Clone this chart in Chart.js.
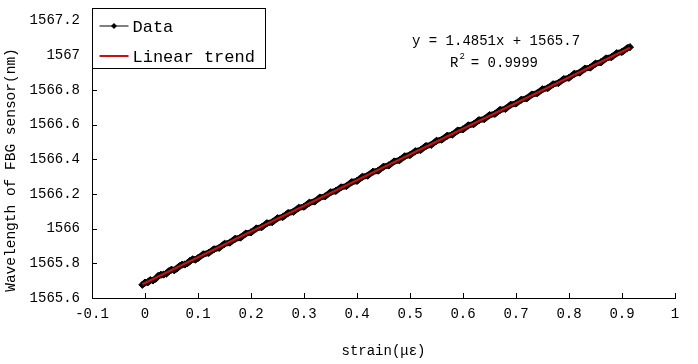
<!DOCTYPE html>
<html><head><meta charset="utf-8">
<script src="https://cdn.jsdelivr.net/npm/chart.js@4"></script>
<style>html,body{margin:0;padding:0;background:#fff}#wrap{width:698px;height:364px}</style>
</head><body><div id="wrap"><canvas id="c" width="698" height="364"></canvas></div>
<script>
const strainX = [-0.005,0.00,0.005,0.01,0.015,0.02,0.025,0.03,0.035,0.04,0.045,0.05,0.055,0.06,0.065,0.07,0.075,0.08,0.085,0.09,0.095,0.10,0.11,0.12,0.13,0.14,0.15,0.16,0.17,0.18,0.19,0.20,0.21,0.22,0.23,0.24,0.25,0.26,0.27,0.28,0.29,0.30,0.31,0.32,0.33,0.34,0.35,0.36,0.37,0.38,0.39,0.40,0.41,0.42,0.43,0.44,0.45,0.46,0.47,0.48,0.49,0.50,0.51,0.52,0.53,0.54,0.55,0.56,0.57,0.58,0.59,0.60,0.61,0.62,0.63,0.64,0.65,0.66,0.67,0.68,0.69,0.70,0.71,0.72,0.73,0.74,0.75,0.76,0.77,0.78,0.79,0.80,0.81,0.82,0.83,0.84,0.85,0.86,0.87,0.88,0.89,0.90,0.91,0.915];
const wavelengthY = [1565.676,1565.689,1565.690,1565.703,1565.701,1565.711,1565.727,1565.734,1565.735,1565.740,1565.754,1565.763,1565.760,1565.770,1565.783,1565.792,1565.793,1565.801,1565.814,1565.823,1565.821,1565.830,1565.852,1565.860,1565.881,1565.889,1565.912,1565.919,1565.941,1565.948,1565.971,1565.978,1566.001,1566.008,1566.031,1566.037,1566.060,1566.067,1566.090,1566.097,1566.120,1566.126,1566.149,1566.156,1566.179,1566.186,1566.209,1566.217,1566.238,1566.245,1566.268,1566.275,1566.298,1566.305,1566.328,1566.334,1566.357,1566.364,1566.387,1566.394,1566.417,1566.424,1566.446,1566.453,1566.476,1566.483,1566.506,1566.513,1566.535,1566.542,1566.565,1566.572,1566.595,1566.602,1566.625,1566.631,1566.654,1566.661,1566.684,1566.690,1566.714,1566.721,1566.743,1566.750,1566.773,1566.780,1566.803,1566.810,1566.832,1566.839,1566.862,1566.869,1566.892,1566.899,1566.922,1566.928,1566.951,1566.958,1566.981,1566.988,1567.011,1567.018,1567.040,1567.046];
const trendX = [-0.005, 0.915];
const trendY = [1565.679, 1567.042];
const xTicks = {min:-0.1, max:1, step:0.1};
const yTicks = {min:1565.6, max:1567.2, step:0.2};
const equationLines = ["y = 1.4851x + 1565.7", "R", "2", " = 0.9999"];
const xTitle = "strain(με)";
const yTitle = "Wavelength of FBG sensor(nm)";
const seriesLabels = ["Data", "Linear trend"];

const FONT = "'Liberation Mono', monospace";
const dataPts = strainX.map((x,i)=>({x, y: wavelengthY[i]}));
const trendPts = trendX.map((x,i)=>({x, y: trendY[i]}));
const fmt = v => String(Number(Number(v).toFixed(1)));

const overlay = {
  id:'overlay',
  afterDraw(chart){
    const ctx = chart.ctx, xs = chart.scales.x, ys = chart.scales.y;
    ctx.save();
    ctx.strokeStyle = '#000'; ctx.lineWidth = 1;
    xs.ticks.forEach(t=>{ const px = Math.round(xs.getPixelForValue(t.value))+0.5;
      ctx.beginPath(); ctx.moveTo(px, ys.bottom); ctx.lineTo(px, ys.bottom-5); ctx.stroke(); });
    ys.ticks.forEach(t=>{ const py = Math.round(ys.getPixelForValue(t.value))+0.5;
      ctx.beginPath(); ctx.moveTo(xs.left, py); ctx.lineTo(xs.left+5, py); ctx.stroke(); });
    // y title
    ctx.save();
    ctx.translate(11, 170); ctx.rotate(-Math.PI/2);
    ctx.font = "14.5px " + FONT; ctx.fillStyle='#000'; ctx.textAlign='center'; ctx.textBaseline='middle';
    ctx.fillText(yTitle, 0, 0);
    ctx.restore();
    // legend
    const lx = xs.left+0.5, ly = 8.5, lw = 173, lh = 60;
    ctx.fillStyle = '#fff'; ctx.fillRect(lx, ly, lw, lh);
    ctx.strokeRect(lx, ly, lw, lh);
    const ds = chart.data.datasets;
    ctx.font = "17px " + FONT; ctx.textBaseline = 'middle'; ctx.textAlign='left';
    let ry = 26;
    ctx.strokeStyle = '#000'; ctx.lineWidth = 1;
    ctx.beginPath(); ctx.moveTo(lx+7, ry); ctx.lineTo(lx+36, ry); ctx.stroke();
    ctx.fillStyle = '#000';
    ctx.beginPath(); ctx.moveTo(lx+21.5, ry-3); ctx.lineTo(lx+24.5, ry); ctx.lineTo(lx+21.5, ry+3); ctx.lineTo(lx+18.5, ry); ctx.closePath(); ctx.fill();
    ctx.fillText(ds[0].label, lx+40, ry+1);
    ry = 56;
    ctx.strokeStyle = ds[1].borderColor; ctx.lineWidth = 2;
    ctx.beginPath(); ctx.moveTo(lx+7, ry); ctx.lineTo(lx+36, ry); ctx.stroke();
    ctx.fillStyle='#000'; ctx.fillText(ds[1].label, lx+40, ry+1);
    // equation
    ctx.font = "14px " + FONT;
    ctx.fillText(equationLines[0], 412, 41);
    ctx.fillText(equationLines[1], 450, 63);
    const rw = ctx.measureText(equationLines[1]).width;
    ctx.font = "9px " + FONT; ctx.fillText(equationLines[2], 450+rw+1, 57);
    ctx.font = "14px " + FONT; ctx.fillText(equationLines[3], 450+rw+4, 63);
    ctx.restore();
  }
};

new Chart(document.getElementById('c'), {
  type:'scatter',
  data:{datasets:[
    {label:seriesLabels[0], data:dataPts, showLine:true, borderColor:'#000', borderWidth:6,
     pointStyle:'rectRot', pointRadius:3.6, pointBackgroundColor:'#000', pointBorderColor:'#000', pointBorderWidth:1, order:2},
    {label:seriesLabels[1], data:trendPts, showLine:true, borderColor:'#cc1010', borderWidth:2.2, pointRadius:0, order:1}
  ]},
  plugins:[overlay],
  options:{
    responsive:false, animation:false, devicePixelRatio:1,
    layout:{padding:{top:15, right:23, left:0, bottom:0}},
    plugins:{legend:{display:false}, tooltip:{enabled:false}},
    scales:{
      x:{type:'linear', min:xTicks.min, max:xTicks.max,
         ticks:{stepSize:xTicks.step, color:'#000', font:{family:FONT, size:14}, padding:8, maxRotation:0, callback:fmt},
         grid:{display:false, drawTicks:false}, border:{display:true, color:'#000', width:1},
         title:{display:true, text:xTitle, color:'#000', font:{family:FONT, size:14}, padding:{top:8}},
         afterFit(s){ s.height = 66; }},
      y:{type:'linear', min:yTicks.min, max:yTicks.max,
         ticks:{stepSize:yTicks.step, color:'#000', font:{family:FONT, size:14}, padding:12, callback:fmt},
         grid:{display:false, drawTicks:false}, border:{display:true, color:'#000', width:1},
         title:{display:false},
         afterFit(s){ s.width = 92; }}
    }
  }
});
</script></body></html>
